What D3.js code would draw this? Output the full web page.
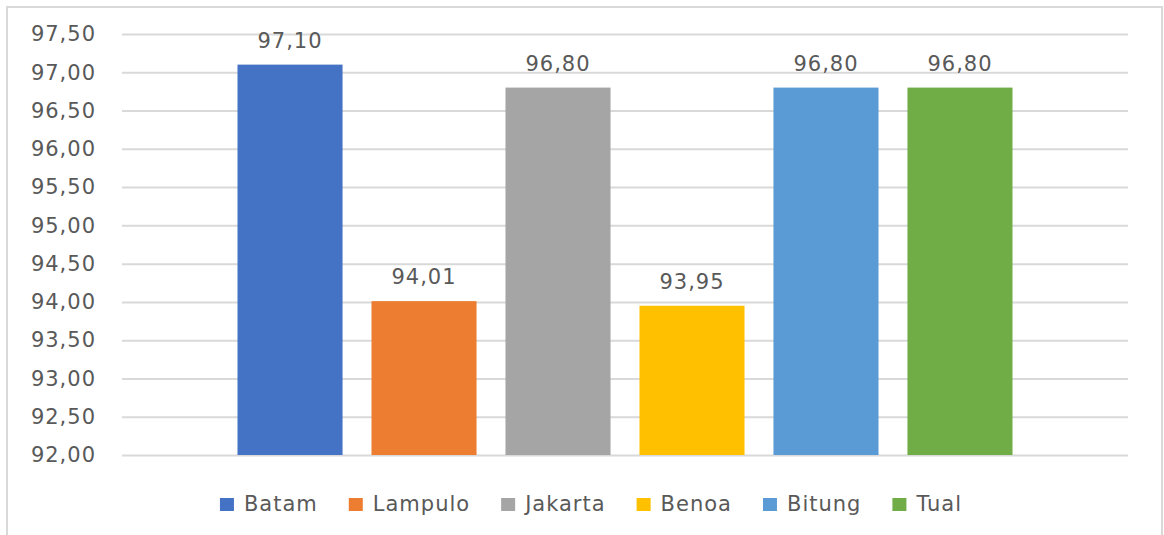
<!DOCTYPE html>
<html>
<head>
<meta charset="utf-8">
<script src="https://cdn.jsdelivr.net/npm/d3@7"></script>
<style>
  body { margin: 0; background: #fff; }
  text { font-family: "DejaVu Sans", sans-serif; fill: #595959; letter-spacing: 1px; }
</style>
</head>
<body>
<div id="chart"></div>
<script>
// data
const ports = ["Batam", "Lampulo", "Jakarta", "Benoa", "Bitung", "Tual"];
const values = [97.10, 94.01, 96.80, 93.95, 96.80, 96.80];
const colors = ["#4472C4", "#ED7D31", "#A5A5A5", "#FFC000", "#5B9BD5", "#70AD47"];
const yTicks = [92, 92.5, 93, 93.5, 94, 94.5, 95, 95.5, 96, 96.5, 97, 97.5];

const width = 1164;
const height = 535;
const margin = {top: 34, left: 122, right: 36, bottom: 80};

const svg = d3.select("#chart")
  .append("svg")
  .attr("width", width)
  .attr("height", height);

// outer chart frame
svg.append("rect")
  .attr("x", 7)
  .attr("y", 7)
  .attr("width", 1155)
  .attr("height", 540)
  .attr("fill", "none")
  .attr("stroke", "#d9d9d9")
  .attr("stroke-width", 2);

const comma = v => d3.format(".2f")(v).replace(".", ",");

const yScale = d3.scaleLinear()
  .domain([92, 97.5])
  .range([height - margin.bottom, margin.top]);

const xScale = d3.scaleBand()
  .domain(ports)
  .range([margin.left, width - margin.right])
  .paddingInner(0.216)
  .paddingOuter(0.862);

/* gridlines + tick labels */
const yAxis = svg.append("g")
  .attr("transform", `translate(${margin.left},0)`)
  .call(d3.axisLeft(yScale)
    .tickValues(yTicks)
    .tickSize(-(width - margin.left - margin.right))
    .tickPadding(26)
    .tickFormat(comma));

yAxis.select(".domain").remove();
yAxis.selectAll(".tick line")
  .attr("stroke", "#d9d9d9")
  .attr("stroke-width", 2);
yAxis.selectAll(".tick text")
  .attr("font-size", 21)
  .attr("fill", "#595959");
yAxis.attr("font-family", null).attr("font-size", null);

/* bars */
const rows = ports.map((p, i) => ({port: p, value: values[i], color: colors[i]}));

svg.selectAll("rect.bar")
  .data(rows)
  .enter()
  .append("rect")
  .attr("class", "bar")
  .attr("x", d => xScale(d.port))
  .attr("y", d => yScale(d.value))
  .attr("width", xScale.bandwidth())
  .attr("height", d => yScale(92) - yScale(d.value))
  .attr("fill", d => d.color);

/* value labels */
svg.selectAll("text.val")
  .data(rows)
  .enter()
  .append("text")
  .attr("class", "val")
  .attr("x", d => xScale(d.port) + xScale.bandwidth() / 2)
  .attr("y", d => yScale(d.value) - 17)
  .attr("text-anchor", "middle")
  .attr("font-size", 21)
  .text(d => comma(d.value));

/* legend */
const legend = svg.append("g");
const items = legend.selectAll("g")
  .data(rows)
  .enter()
  .append("g");

items.append("rect")
  .attr("width", 14)
  .attr("height", 13)
  .attr("y", -13)
  .attr("fill", d => d.color);

items.append("text")
  .attr("x", 24)
  .attr("font-size", 21)
  .text(d => d.port);

const gap = 31;
let xPos = 0;
items.each(function() {
  const w = this.getBBox().width;
  d3.select(this).attr("transform", `translate(${xPos},511)`);
  xPos += w + gap;
});
const total = xPos - gap;
legend.attr("transform", `translate(${591 - total / 2},0)`);
</script>
</body>
</html>
